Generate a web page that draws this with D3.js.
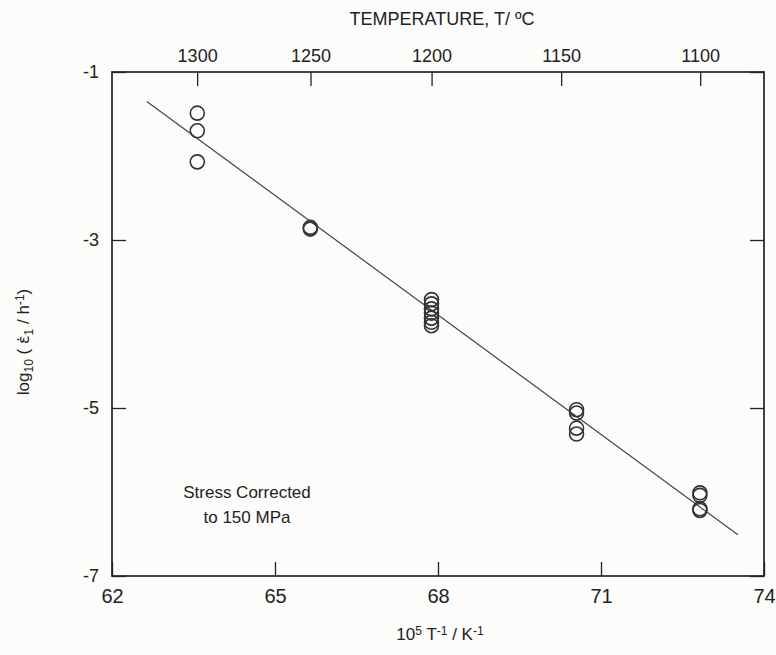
<!DOCTYPE html>
<html>
<head>
<meta charset="utf-8">
<script src="https://cdn.jsdelivr.net/npm/d3@7"></script>
<style>
  body { margin: 0; background: #fcfcfa; }
  svg { display: block; }
  text { font-family: "Liberation Sans", Arial, Helvetica, sans-serif; fill: #222; }
  .axis path { display: none; }
  .axis line { stroke: #222; stroke-width: 1.3; }
</style>
</head>
<body>
<script>
// chart values
var tempLabels = [1300, 1250, 1200, 1150, 1100];
var xTicks = [62, 65, 68, 71, 74];
var yTicks = [-1, -3, -5, -7];

// 10^5 / T (K) for each measurement, and log10 strain rate
var invTemp = [63.57, 63.57, 63.57,
  65.65, 65.65,
  67.88, 67.88, 67.88, 67.88, 67.88, 67.88, 67.88,
  70.55, 70.55, 70.55, 70.55,
  72.82, 72.82, 72.82, 72.82];
var logRate = [-1.49, -1.70, -2.07,
  -2.85, -2.87,
  -3.71, -3.76, -3.82, -3.87, -3.93, -3.98, -4.02,
  -5.02, -5.06, -5.24, -5.31,
  -6.01, -6.04, -6.20, -6.22];

// fitted line end points
var fitX = [62.64, 73.52];
var fitY = [-1.35, -6.51];

var svgWidth = 776;
var svgHeight = 655;
var margin = { top: 72, right: 12, bottom: 79, left: 112 };

var svg = d3.select("body")
  .append("svg")
  .attr("width", svgWidth)
  .attr("height", svgHeight);

var x = d3.scaleLinear().domain([62, 74]).range([margin.left, svgWidth - margin.right]);
var y = d3.scaleLinear().domain([-1, -7]).range([margin.top, svgHeight - margin.bottom]);

var plotL = x.range()[0], plotR = x.range()[1];
var plotT = y.range()[0], plotB = y.range()[1];

// bottom axis
svg.append("g")
  .attr("class", "axis")
  .attr("transform", `translate(0,${plotB})`)
  .call(d3.axisBottom(x).tickValues(xTicks).tickSizeInner(-14).tickSizeOuter(0).tickPadding(13))
  .selectAll("text").style("font-size", "20px");

// left axis
svg.append("g")
  .attr("class", "axis")
  .attr("transform", `translate(${plotL},0)`)
  .call(d3.axisLeft(y).tickValues(yTicks).tickSizeInner(-14).tickSizeOuter(0).tickPadding(13)
    .tickFormat(d => d))
  .selectAll("text").style("font-size", "18px");

// right axis, marks only
svg.append("g")
  .attr("class", "axis")
  .attr("transform", `translate(${plotR},0)`)
  .call(d3.axisRight(y).tickValues(yTicks).tickSizeInner(-14).tickSizeOuter(0).tickFormat(""));

// top axis, temperature in degrees C
var toInv = t => 1e5 / (t + 273.15);
svg.append("g")
  .attr("class", "axis")
  .attr("transform", `translate(0,${plotT})`)
  .call(d3.axisTop(x).tickValues(tempLabels.map(toInv)).tickSizeInner(-14).tickSizeOuter(0).tickPadding(10)
    .tickFormat((d, i) => tempLabels[i]))
  .selectAll("text").style("font-size", "18px");

// frame
svg.append("rect")
  .attr("x", plotL)
  .attr("y", plotT)
  .attr("width", plotR - plotL)
  .attr("height", plotB - plotT)
  .attr("fill", "none")
  .attr("stroke", "#222")
  .attr("stroke-width", 1.7);

// fit line
svg.append("line")
  .attr("x1", x(fitX[0])).attr("y1", y(fitY[0]))
  .attr("x2", x(fitX[1])).attr("y2", y(fitY[1]))
  .attr("stroke", "#444")
  .attr("stroke-width", 1.2);

// data circles
svg.selectAll(".pt")
  .data(invTemp)
  .enter()
  .append("circle")
  .attr("class", "pt")
  .attr("cx", d => x(d))
  .attr("cy", (d, i) => y(logRate[i]))
  .attr("r", 7)
  .attr("fill", "none")
  .attr("stroke", "#333")
  .attr("stroke-width", 1.6);

// titles
svg.append("text")
  .attr("x", 442)
  .attr("y", 25)
  .attr("text-anchor", "middle")
  .style("font-size", "18px")
  .text("TEMPERATURE, T/ ºC");

var xt = svg.append("text")
  .attr("x", 440)
  .attr("y", 640)
  .attr("text-anchor", "middle")
  .style("font-size", "17px");
xt.append("tspan").text("10");
xt.append("tspan").attr("dy", -5).style("font-size", "12px").text("5");
xt.append("tspan").attr("dy", 5).text(" T");
xt.append("tspan").attr("dy", -5).style("font-size", "12px").text("-1");
xt.append("tspan").attr("dy", 5).text(" / K");
xt.append("tspan").attr("dy", -5).style("font-size", "12px").text("-1");

var yt = svg.append("text")
  .attr("transform", "translate(29,342) rotate(-90)")
  .attr("text-anchor", "middle")
  .style("font-size", "17px");
yt.append("tspan").text("log");
yt.append("tspan").attr("dy", 4).style("font-size", "12px").text("10");
yt.append("tspan").attr("dy", -4).text(" ( ");
yt.append("tspan").style("font-family", "DejaVu Sans").style("font-size", "16px").text("ε̇");
yt.append("tspan").attr("dy", 4).style("font-size", "12px").text("1");
yt.append("tspan").attr("dy", -4).text(" / h");
yt.append("tspan").attr("dy", -5).style("font-size", "12px").text("-1");
yt.append("tspan").attr("dy", 5).text(")");

// annotation
var note = svg.append("text")
  .attr("text-anchor", "middle")
  .style("font-size", "17px");
note.append("tspan").attr("x", 247).attr("y", 498).text("Stress Corrected");
note.append("tspan").attr("x", 247).attr("y", 523).text("to 150 MPa");
</script>
</body>
</html>
